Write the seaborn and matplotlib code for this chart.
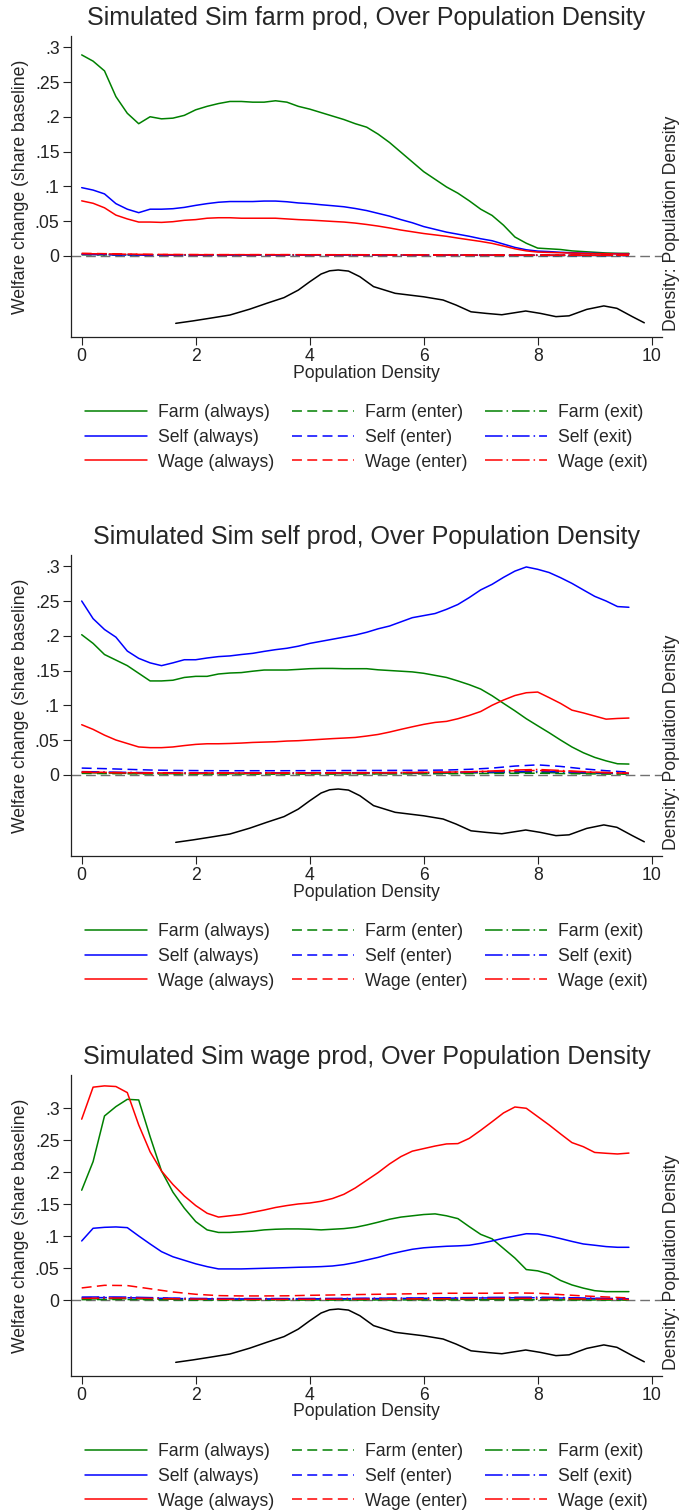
import numpy as np
import pandas as pd
import matplotlib
matplotlib.use("Agg")
import matplotlib.pyplot as plt
from matplotlib.lines import Line2D
import seaborn as sns

# ---------------- data ----------------
x_main = [0.0, 0.2, 0.4, 0.6, 0.8, 1.0, 1.2, 1.4, 1.6, 1.8, 2.0, 2.2, 2.4, 2.6, 2.8, 3.0,
          3.2, 3.4, 3.6, 3.8, 4.0, 4.2, 4.4, 4.6, 4.8, 5.0, 5.2, 5.4, 5.6, 5.8, 6.0, 6.2,
          6.4, 6.6, 6.8, 7.0, 7.2, 7.4, 7.6, 7.8, 8.0, 8.2, 8.4, 8.6, 8.8, 9.0, 9.2, 9.4, 9.6]
x_small = [0.0, 0.4, 0.8, 1.2, 1.6, 2.0, 2.4, 2.8, 3.2, 3.6, 4.0, 4.4, 4.8, 5.2, 5.6, 6.0,
           6.4, 6.8, 7.2, 7.6, 8.0, 8.4, 8.8, 9.2, 9.6]

# Panel 1: Sim farm prod
farm_always_1 = [0.289, 0.280, 0.266, 0.229, 0.205, 0.190, 0.200, 0.197, 0.198, 0.202, 0.210, 0.215,
                 0.219, 0.222, 0.222, 0.221, 0.221, 0.223, 0.221, 0.215, 0.211, 0.206, 0.201, 0.196,
                 0.190, 0.185, 0.175, 0.163, 0.149, 0.135, 0.121, 0.110, 0.099, 0.090, 0.079, 0.067,
                 0.058, 0.044, 0.027, 0.018, 0.011, 0.010, 0.009, 0.007, 0.006, 0.005, 0.004, 0.0035, 0.0035]
self_always_1 = [0.098, 0.0945, 0.089, 0.075, 0.067, 0.062, 0.067, 0.067, 0.0677, 0.0696, 0.0725, 0.075,
                 0.077, 0.078, 0.078, 0.078, 0.0787, 0.0787, 0.0777, 0.076, 0.075, 0.0734, 0.072, 0.0705,
                 0.068, 0.065, 0.061, 0.057, 0.052, 0.0475, 0.042, 0.038, 0.034, 0.031, 0.028, 0.0245,
                 0.0216, 0.0168, 0.012, 0.0086, 0.0067, 0.006, 0.005, 0.0043, 0.0038, 0.0034, 0.003, 0.003, 0.0025]
wage_always_1 = [0.079, 0.0755, 0.069, 0.0585, 0.053, 0.0485, 0.0485, 0.048, 0.049, 0.051, 0.052, 0.054,
                 0.0547, 0.0547, 0.054, 0.054, 0.054, 0.054, 0.053, 0.052, 0.0513, 0.0504, 0.0494, 0.0485,
                 0.047, 0.045, 0.0427, 0.040, 0.037, 0.0345, 0.032, 0.030, 0.028, 0.0254, 0.023, 0.0206,
                 0.0178, 0.014, 0.010, 0.007, 0.0053, 0.0048, 0.0043, 0.0038, 0.0034, 0.003, 0.003, 0.0025, 0.0025]
farm_enter_1 = [.0015, .0013, .0011, .0010, .0010, .0010, .0010, .0010, .0010, .0010, .0010, .0010, .0010,
                .0009, .0009, .0008, .0008, .0007, .0007, .0006, .0006, .0005, .0005, .0005, .0005]
farm_exit_1 = [.0020, .0017, .0014, .0012, .0011, .0011, .0011, .0011, .0011, .0011, .0011, .0011, .0010,
               .0010, .0009, .0009, .0008, .0008, .0007, .0007, .0006, .0006, .0005, .0005, .0005]
self_enter_1 = [.0025, .0020, .0015, .0013, .0012, .0012, .0012, .0012, .0012, .0012, .0012, .0012, .0011,
                .0011, .0010, .0010, .0009, .0009, .0008, .0008, .0007, .0007, .0006, .0006, .0005]
self_exit_1 = [.0020, .0016, .0012, .0010, .0010, .0010, .0010, .0010, .0010, .0010, .0010, .0010, .0009,
               .0009, .0009, .0008, .0008, .0007, .0007, .0006, .0006, .0005, .0005, .0005, .0005]
wage_enter_1 = [.0035, .0030, .0025, .0020, .0018, .0017, .0016, .0016, .0016, .0016, .0015, .0015, .0015,
                .0014, .0013, .0013, .0012, .0011, .0011, .0010, .0009, .0009, .0008, .0008, .0007]
wage_exit_1 = [.0030, .0027, .0022, .0018, .0016, .0015, .0015, .0015, .0015, .0015, .0014, .0014, .0014,
               .0013, .0012, .0012, .0011, .0010, .0010, .0009, .0009, .0008, .0008, .0007, .0007]

# Panel 2: Sim self prod
farm_always_2 = [0.2015, 0.189, 0.173, 0.165, 0.157, 0.146, 0.135, 0.135, 0.136, 0.140, 0.1416, 0.1416,
                 0.145, 0.1464, 0.147, 0.149, 0.1507, 0.1507, 0.1507, 0.1516, 0.1526, 0.153, 0.153, 0.1526,
                 0.1526, 0.1526, 0.151, 0.150, 0.149, 0.148, 0.146, 0.143, 0.140, 0.135, 0.1296, 0.1233,
                 0.1137, 0.1027, 0.092, 0.0806, 0.0705, 0.0605, 0.050, 0.040, 0.0317, 0.025, 0.020, 0.0158, 0.0154]
self_always_2 = [0.250, 0.2246, 0.209, 0.198, 0.178, 0.1675, 0.161, 0.157, 0.161, 0.1655, 0.1655, 0.168,
                 0.170, 0.171, 0.173, 0.1747, 0.1775, 0.180, 0.182, 0.185, 0.189, 0.192, 0.195, 0.198,
                 0.201, 0.205, 0.210, 0.214, 0.220, 0.226, 0.229, 0.232, 0.238, 0.245, 0.255, 0.266,
                 0.274, 0.284, 0.293, 0.299, 0.2956, 0.291, 0.2836, 0.2754, 0.266, 0.2567, 0.250, 0.242, 0.241]
wage_always_2 = [0.072, 0.0653, 0.057, 0.050, 0.045, 0.040, 0.039, 0.039, 0.040, 0.042, 0.0437, 0.0446,
                 0.0446, 0.045, 0.0456, 0.0465, 0.047, 0.0475, 0.0485, 0.049, 0.050, 0.051, 0.052, 0.0528,
                 0.0537, 0.0557, 0.058, 0.0614, 0.0653, 0.069, 0.0725, 0.0753, 0.0768, 0.0806, 0.0854, 0.091,
                 0.100, 0.1075, 0.114, 0.118, 0.119, 0.111, 0.1027, 0.093, 0.089, 0.0845, 0.080, 0.081, 0.0816]
farm_enter_2 = [.0020, .0017, .0014, .0012, .0011, .0010, .0010, .0010, .0010, .0010, .0011, .0011, .0012,
                .0012, .0013, .0014, .0015, .0017, .0019, .0021, .0022, .0018, .0014, .0011, .0010]
farm_exit_2 = [.0030, .0026, .0020, .0017, .0016, .0015, .0015, .0015, .0015, .0015, .0016, .0016, .0017,
               .0018, .0019, .0021, .0023, .0026, .0029, .0032, .0033, .0027, .0021, .0017, .0015]
self_enter_2 = [.0096, .0088, .0078, .0068, .0062, .0060, .0058, .0058, .0058, .0058, .0059, .0060, .0061,
                .0062, .0063, .0064, .0068, .0078, .0096, .0125, .0142, .0120, .0085, .0058, .0038]
self_exit_2 = [.0045, .0040, .0034, .0030, .0028, .0027, .0027, .0027, .0027, .0027, .0028, .0028, .0029,
               .0030, .0031, .0032, .0034, .0037, .0041, .0046, .0050, .0042, .0033, .0026, .0020]
wage_enter_2 = [.0040, .0035, .0030, .0027, .0026, .0026, .0026, .0026, .0027, .0027, .0028, .0029, .0030,
                .0031, .0033, .0035, .0038, .0043, .0050, .0058, .0062, .0052, .0040, .0030, .0022]
wage_exit_2 = [.0035, .0031, .0026, .0023, .0022, .0022, .0022, .0022, .0023, .0023, .0024, .0025, .0026,
               .0027, .0029, .0032, .0036, .0043, .0055, .0068, .0076, .0062, .0045, .0032, .0024]

# Panel 3: Sim wage prod
farm_always_3 = [0.172, 0.2167, 0.288, 0.3026, 0.314, 0.313, 0.2557, 0.202, 0.169, 0.144, 0.123, 0.110,
                 0.106, 0.106, 0.107, 0.108, 0.110, 0.111, 0.1115, 0.1115, 0.111, 0.110, 0.111, 0.112,
                 0.114, 0.1177, 0.122, 0.1266, 0.130, 0.132, 0.134, 0.135, 0.132, 0.1276, 0.115, 0.103,
                 0.096, 0.081, 0.066, 0.048, 0.046, 0.041, 0.031, 0.024, 0.019, 0.015, 0.0135, 0.0135, 0.0135]
self_always_3 = [0.0927, 0.1125, 0.114, 0.1146, 0.1135, 0.1005, 0.088, 0.076, 0.068, 0.0625, 0.057, 0.0526,
                 0.049, 0.049, 0.049, 0.0495, 0.050, 0.0505, 0.051, 0.0516, 0.052, 0.0526, 0.0536, 0.0557,
                 0.0589, 0.063, 0.067, 0.072, 0.076, 0.0797, 0.082, 0.0833, 0.0844, 0.085, 0.086, 0.089,
                 0.0927, 0.097, 0.1005, 0.104, 0.1036, 0.1005, 0.0964, 0.092, 0.088, 0.086, 0.0839, 0.0828, 0.0828]
wage_always_3 = [0.283, 0.333, 0.335, 0.334, 0.3245, 0.274, 0.232, 0.202, 0.181, 0.163, 0.148, 0.136,
                 0.130, 0.132, 0.134, 0.1375, 0.141, 0.145, 0.148, 0.1505, 0.152, 0.1547, 0.159, 0.1656,
                 0.1755, 0.1875, 0.1995, 0.213, 0.2245, 0.233, 0.237, 0.241, 0.2443, 0.2448, 0.253, 0.2656,
                 0.279, 0.2927, 0.302, 0.300, 0.287, 0.274, 0.260, 0.2464, 0.240, 0.231, 0.2297, 0.2286, 0.230]
farm_enter_3 = [.0010, .0012, .0012, .0010, .0008, .0006, .0005, .0005, .0005, .0005, .0005, .0005, .0005,
                .0006, .0006, .0007, .0007, .0008, .0008, .0008, .0008, .0007, .0006, .0005, .0004]
farm_exit_3 = [.0020, .0024, .0024, .0020, .0016, .0012, .0010, .0010, .0010, .0010, .0010, .0010, .0011,
               .0012, .0013, .0014, .0015, .0016, .0016, .0016, .0016, .0014, .0012, .0010, .0008]
self_enter_3 = [.0040, .0042, .0040, .0034, .0028, .0024, .0022, .0022, .0022, .0022, .0023, .0024, .0025,
                .0027, .0029, .0031, .0033, .0035, .0037, .0039, .0040, .0036, .0030, .0025, .0020]
self_exit_3 = [.0050, .0052, .0050, .0042, .0034, .0029, .0027, .0027, .0027, .0027, .0028, .0029, .0031,
               .0033, .0035, .0037, .0039, .0042, .0045, .0047, .0048, .0043, .0036, .0030, .0024]
wage_enter_3 = [.0193, .0234, .0230, .0180, .0130, .0094, .0073, .0068, .0068, .0070, .0078, .0083, .0089,
                .0094, .0099, .0104, .0110, .0110, .0110, .0115, .0110, .0089, .0068, .0052, .0036]
wage_exit_3 = [.0030, .0035, .0035, .0030, .0024, .0019, .0016, .0015, .0015, .0015, .0016, .0017, .0018,
               .0019, .0021, .0023, .0025, .0027, .0029, .0030, .0030, .0026, .0021, .0017, .0014]

# Kernel density of population density (secondary axis, same in all panels)
dens_x = [1.65, 1.95, 2.25, 2.6, 2.95, 3.25, 3.55, 3.8, 4.0, 4.2, 4.35, 4.5, 4.68, 4.88, 5.12, 5.5,
          6.0, 6.34, 6.57, 6.83, 7.1, 7.37, 7.79, 8.05, 8.32, 8.55, 8.86, 9.16, 9.39, 9.66, 9.87]
dens_y = [0.051, 0.060, 0.070, 0.082, 0.104, 0.126, 0.147, 0.175, 0.206, 0.235, 0.247, 0.250, 0.246,
          0.225, 0.188, 0.163, 0.150, 0.138, 0.119, 0.094, 0.088, 0.083, 0.097, 0.088, 0.076, 0.079,
          0.103, 0.116, 0.107, 0.076, 0.053]

titles = ["Simulated Sim farm prod, Over Population Density",
          "Simulated Sim self prod, Over Population Density",
          "Simulated Sim wage prod, Over Population Density"]
sectors = ["Farm", "Self", "Wage"]
groups = ["always", "enter", "exit"]
y_ticks = [0, 0.05, 0.1, 0.15, 0.2, 0.25, 0.3]
y_ticklabels = ["0", ".05", ".1", ".15", ".2", ".25", ".3"]
x_ticks = [0, 2, 4, 6, 8, 10]

panels = [
    {"Farm": (farm_always_1, farm_enter_1, farm_exit_1),
     "Self": (self_always_1, self_enter_1, self_exit_1),
     "Wage": (wage_always_1, wage_enter_1, wage_exit_1)},
    {"Farm": (farm_always_2, farm_enter_2, farm_exit_2),
     "Self": (self_always_2, self_enter_2, self_exit_2),
     "Wage": (wage_always_2, wage_enter_2, wage_exit_2)},
    {"Farm": (farm_always_3, farm_enter_3, farm_exit_3),
     "Self": (self_always_3, self_enter_3, self_exit_3),
     "Wage": (wage_always_3, wage_enter_3, wage_exit_3)},
]

# ---------------- style ----------------
sns.set_style("ticks")
plt.rcParams['font.family'] = ['Liberation Sans', 'DejaVu Sans']

colors = {"Farm": "#008000", "Self": "#0000ff", "Wage": "#ff0000"}
styles = {"always": "-", "enter": (0, (6.5, 3.5)), "exit": (0, (11.5, 2.6, 1.0, 2.6))}
LW = 1.1
FS = 12.7

W, H = 680.0, 1512.0
fig = plt.figure(figsize=(6.8, 15.12), dpi=100)
fig.patch.set_facecolor("white")


def fxp(px):
    return px / W


def fyp(py):
    return 1.0 - py / H


offsets = [0, 519, 1039]
ylims = [(-0.1169, 0.3162), (-0.1169, 0.3162), (-0.1183, 0.352)]
L, R, T, B = 70.7, 662.0, 36.0, 337.0
xlo, xhi = (L - 81.7) / 57.0, (R - 81.7) / 57.0
CX = (L + R) / 2.0

for k, off in enumerate(offsets):
    ax = fig.add_axes([fxp(L), fyp(B + off), (R - L) / W, (B - T) / H])
    ax.set_facecolor("white")
    ax.axhline(0, color="#707070", lw=1.0, ls=(0, (7, 3.5)), zorder=1)
    data = panels[k]
    for s in sectors:
        vals = data[s]
        for g, v in zip(groups, vals):
            xx = x_main if g == "always" else x_small
            sns.lineplot(x=xx, y=v, ax=ax, color=colors[s], linewidth=LW,
                         linestyle=styles[g], estimator=None, sort=False,
                         legend=False, zorder=3)
    ax.set_xlim(xlo, xhi)
    ax.set_ylim(*ylims[k])
    ax.set_xticks(x_ticks)
    ax.set_xticklabels([str(t) for t in x_ticks])
    ax.set_yticks(y_ticks)
    ax.set_yticklabels(y_ticklabels)
    ax.set_xlabel("")
    ax.set_ylabel("")
    ax.tick_params(axis="both", direction="out", length=5.5, width=0.8,
                   pad=2.5, labelsize=FS, colors="#222222")
    for sp in ["top", "right"]:
        ax.spines[sp].set_visible(False)
    for sp in ["left", "bottom"]:
        ax.spines[sp].set_color("#222222")
        ax.spines[sp].set_linewidth(0.9)

    ax2 = ax.twinx()
    sns.lineplot(x=dens_x, y=dens_y, ax=ax2, color="black", linewidth=LW,
                 estimator=None, sort=False, legend=False)
    ax2.set_ylim(0, 301.0 / 268.0)
    ax2.set_xlim(xlo, xhi)
    ax2.set_yticks([])
    ax2.set_ylabel("")
    for sp in ax2.spines.values():
        sp.set_visible(False)

    fig.text(fxp(CX), fyp(25 + off), titles[k], ha="center", va="baseline", fontsize=18)
    fig.text(fxp(21), fyp(186.5 + off), "Welfare change (share baseline)", rotation=90,
             ha="center", va="center", fontsize=FS)
    fig.text(fxp(671), fyp(223 + off), "Density: Population Density", rotation=90,
             ha="center", va="center", fontsize=FS)
    fig.text(fxp(CX), fyp(373 + off), "Population Density", ha="center", va="center", fontsize=FS)

    handles, labels = [], []
    for g in groups:
        for s in sectors:
            handles.append(Line2D([0], [0], color=colors[s], lw=LW, ls=styles[g]))
            labels.append(f"{s} ({g})")
    fig.legend(handles, labels, loc="center", bbox_to_anchor=(fxp(CX), fyp(437.3 + off)),
               bbox_transform=fig.transFigure, ncol=3, frameon=False, fontsize=FS,
               handlelength=3.5, handletextpad=0.64, columnspacing=1.0, labelspacing=0.44,
               borderpad=0.0)

fig.savefig("out.png", dpi=100, facecolor="white")
